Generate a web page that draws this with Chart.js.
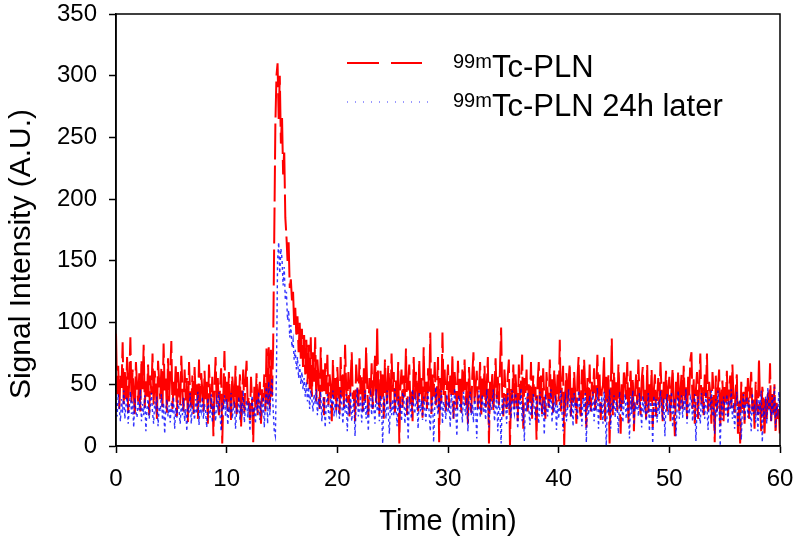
<!DOCTYPE html>
<html>
<head>
<meta charset="utf-8">
<script src="https://cdn.jsdelivr.net/npm/chart.js@4/dist/chart.umd.min.js"></script>
<style>
	body { margin: 0; background: #fff; }
	#wrap { width: 800px; height: 546px; }
</style>
</head>
<body>
<div id="wrap"><canvas id="signalChart" width="800" height="546"></canvas></div>
<script>
// sampling interval of the traces (min)
const timeStep = 0.1;

// 99mTc-PLN, red trace, one row per minute (0.1 min apart), 0 to 60 min
const plnSignal = [
	91, 42, 65, 30, 58, 47, 84, 33, 60, 38,
	72, 27, 55, 88, 35, 62, 44, 24, 68, 50,
	36, 59, 28, 70, 46, 82, 31, 54, 40, 66,
	25, 57, 42, 75, 33, 61, 48, 22, 69, 52,
	38, 64, 29, 83, 45, 56, 27, 71, 36, 58,
	85, 30, 52, 41, 67, 24, 60, 44, 33, 73,
	46, 28, 62, 37, 55, 19, 68, 42, 31, 57,
	26, 64, 40, 50, 22, 70, 35, 59, 45, 28,
	61, 38, 52, 18, 66, 43, 30, 56, 8, 48,
	72, 34, 55, 25, 47, 63, 2, 41, 77, 36,
	52, 28, 60, 39, 20, 57, 45, 31, 65, 24,
	49, 36, 58, 15, 44, 62, 27, 53, 69, 33,
	40, 21, 56, 35, 3, 48, 30, 59, 25, 43,
	52, 18, 46, 36, 58, 28, 79, 34, 80, 30,
	78, 40, 80, 170, 260, 300, 310, 265, 300, 245,
	268, 220, 240, 185, 170, 150, 165, 128, 135, 118,
	125, 98, 112, 88, 105, 76, 100, 70, 95, 64,
	90, 58, 86, 50, 82, 46, 88, 40, 76, 52,
	88, 36, 70, 55, 30, 80, 44, 62, 25, 67,
	42, 74, 33, 58, 48, 20, 70, 38, 55, 29,
	64, 45, 26, 72, 40, 58, 31, 82, 47, 35,
	60, 24, 53, 76, 38, 45, 20, 66, 50, 32,
	71, 42, 57, 28, 63, 36, 80, 48, 25, 55,
	40, 67, 30, 52, 74, 35, 97, 44, 26, 61,
	38, 58, 22, 70, 46, 33, 65, 50, 29, 75,
	44, 60, 27, 53, 36, 68, 2, 48, 62, 31,
	57, 40, 79, 25, 51, 66, 34, 45, 20, 72,
	38, 60, 47, 28, 70, 42, 55, 23, 80, 36,
	52, 30, 63, 44, 92, 26, 58, 40, 68, 33,
	47, 72, 3, 55, 35, 92, 41, 62, 28, 50,
	66, 31, 57, 40, 74, 22, 60, 46, 30, 69,
	38, 55, 27, 62, 44, 70, 33, 52, 18, 64,
	42, 27, 58, 76, 35, 49, 61, 30, 45, 68,
	24, 55, 40, 65, 31, 48, 72, 2, 52, 36,
	60, 28, 46, 71, 38, 56, 33, 64, 96, 40,
	24, 62, 45, 30, 57, 70, 0, 47, 36, 66,
	30, 58, 42, 20, 66, 37, 52, 74, 14, 55,
	43, 62, 28, 50, 35, 68, 22, 57, 40, 48,
	5, 52, 68, 34, 57, 26, 63, 40, 22, 60,
	45, 31, 70, 38, 54, 27, 62, 44, 33, 58,
	36, 86, 28, 50, 65, 0, 44, 59, 31, 53,
	67, 24, 48, 35, 60, 42, 18, 55, 72, 30,
	24, 62, 38, 70, 46, 15, 55, 33, 66, 28,
	52, 40, 63, 29, 47, 74, 36, 58, 21, 45,
	49, 73, 20, 56, 35, 58, 2, 42, 87, 25,
	60, 37, 52, 28, 66, 44, 10, 50, 34, 62,
	52, 38, 68, 18, 47, 61, 30, 55, 12, 44,
	58, 33, 70, 41, 25, 53, 64, 36, 47, 22,
	66, 27, 50, 36, 62, 15, 45, 58, 24, 40,
	55, 31, 68, 43, 20, 52, 38, 61, 28, 46,
	56, 20, 48, 63, 33, 8, 52, 38, 61, 26,
	44, 58, 30, 65, 37, 50, 22, 56, 41, 70,
	76, 30, 54, 18, 45, 60, 22, 50, 75, 34,
	48, 25, 58, 39, 75, 28, 52, 43, 18, 60,
	42, 3, 57, 28, 48, 62, 15, 40, 53, 20,
	50, 35, 61, 24, 45, 57, 30, 66, 38, 27,
	46, 58, 10, 36, 2, 52, 30, 44, 18, 48,
	33, 55, 22, 47, 60, 28, 40, 14, 52, 36,
	25, 71, 33, 12, 48, 40, 8, 38, 22, 45,
	30, 67, 18, 42, 27, 50, 10, 35, 22, 30,
	5
];

// 99mTc-PLN 24h later, blue dotted trace, same sampling
const plnLaterSignal = [
	35, 24, 42, 30, 20, 38, 27, 45, 22, 33,
	40, 18, 31, 44, 26, 36, 15, 39, 28, 23,
	37, 29, 46, 20, 34, 25, 41, 12, 30, 38,
	22, 33, 43, 27, 18, 36, 30, 40, 16, 32,
	28, 42, 21, 35, 10, 30, 38, 24, 33, 19,
	36, 26, 40, 14, 31, 23, 37, 29, 18, 34,
	25, 39, 20, 30, 12, 35, 27, 43, 18, 32,
	30, 21, 38, 26, 44, 17, 33, 28, 40, 22,
	34, 27, 15, 39, 30, 23, 42, 19, 36, 28,
	20, 37, 31, 44, 25, 12, 35, 29, 41, 24,
	38, 17, 32, 27, 43, 22, 30, 36, 14, 29,
	26, 40, 21, 33, 28, 45, 19, 31, 37, 23,
	35, 12, 29, 41, 24, 32, 18, 38, 27, 44,
	21, 34, 28, 40, 15, 37, 48, 18, 52, 25,
	45, 55, 30, 12, 8, 60, 150, 165, 140, 160,
	152, 130, 145, 118, 125, 102, 110, 88, 98, 80,
	86, 70, 78, 62, 72, 55, 66, 50, 60, 46,
	55, 40, 52, 36, 48, 30, 45, 38, 28, 42,
	34, 46, 25, 38, 30, 44, 20, 36, 40, 15,
	33, 42, 27, 18, 39, 31, 45, 24, 35, 28,
	40, 30, 22, 45, 34, 18, 38, 27, 42, 12,
	35, 26, 44, 20, 31, 38, 8, 34, 47, 24,
	30, 41, 19, 36, 27, 45, 22, 33, 12, 39,
	43, 25, 37, 30, 18, 46, 28, 35, 20, 41,
	30, 2, 41, 33, 22, 45, 28, 10, 36, 25,
	38, 24, 46, 31, 16, 40, 27, 35, 20, 43,
	43, 18, 32, 38, 5, 40, 29, 22, 46, 31,
	26, 39, 33, 14, 44, 28, 37, 21, 40, 30,
	20, 37, 44, 26, 12, 35, 41, 3, 30, 48,
	34, 25, 40, 29, 45, 18, 36, 31, 22, 42,
	27, 36, 15, 42, 33, 22, 47, 30, 8, 38,
	41, 28, 35, 19, 44, 32, 25, 39, 12, 36,
	44, 25, 34, 19, 40, 31, 6, 37, 45, 23,
	30, 42, 27, 36, 21, 46, 33, 15, 38, 29,
	33, 46, 20, 30, 41, 12, 36, 28, 2, 39,
	25, 40, 34, 18, 43, 30, 37, 22, 45, 31,
	26, 43, 35, 14, 38, 30, 47, 20, 33, 4,
	39, 28, 44, 31, 17, 36, 25, 42, 30, 21,
	40, 29, 18, 44, 32, 24, 37, 9, 42, 31,
	24, 38, 30, 46, 19, 35, 27, 41, 13, 33,
	22, 38, 45, 27, 12, 35, 40, 20, 30, 46,
	31, 24, 39, 16, 43, 29, 36, 21, 45, 33,
	34, 16, 39, 28, 43, 3, 36, 25, 41, 30,
	27, 44, 20, 35, 31, 47, 14, 38, 26, 40,
	18, 44, 33, 0, 38, 27, 46, 14, 35, 29,
	41, 23, 36, 30, 10, 44, 28, 37, 19, 33,
	42, 22, 37, 31, 6, 40, 26, 45, 17, 33,
	29, 38, 24, 43, 32, 15, 41, 27, 36, 20,
	28, 43, 12, 36, 30, 2, 41, 24, 38, 19,
	37, 26, 45, 31, 21, 39, 8, 34, 42, 25,
	35, 27, 44, 15, 32, 39, 8, 30, 45, 22,
	30, 41, 23, 37, 28, 46, 18, 35, 26, 40,
	37, 20, 33, 42, 4, 29, 40, 26, 18, 43,
	27, 36, 22, 44, 31, 13, 38, 29, 45, 24,
	31, 10, 38, 24, 45, 28, 0, 36, 21, 40,
	33, 25, 42, 18, 37, 30, 46, 22, 35, 14,
	27, 44, 16, 33, 38, 5, 30, 42, 20, 35,
	40, 23, 37, 29, 12, 43, 26, 34, 19, 38,
	12, 38, 26, 45, 3, 31, 22, 40, 18, 47,
	29, 36, 20, 41, 25, 48, 15, 33, 27, 44,
	25
];

const seriesNames = ["Tc-PLN", "Tc-PLN 24h later"];
const isotopeLabel = "99m";
const xTickValues = [0, 10, 20, 30, 40, 50, 60];
const yTickValues = [0, 50, 100, 150, 200, 250, 300, 350];

const FONT = "Arial, 'Liberation Sans', sans-serif";
const RED = "#ff0000";
const BLUE = "rgba(0,0,255,0.8)";

function toPoints(values) {
	return values.map((v, i) => ({ x: Math.round(i * timeStep * 10) / 10, y: v }));
}

// frame round the plot area + y axis title (sits a bit below centre in the original)
const boxPlugin = {
	id: "box",
	afterDraw(chart) {
		const { ctx, chartArea: a } = chart;
		ctx.save();
		ctx.strokeStyle = "#000";
		ctx.lineWidth = 1.5;
		ctx.strokeRect(a.left, a.top, a.right - a.left, a.bottom - a.top);

		ctx.translate(22, (a.top + a.bottom) / 2 + 24);
		ctx.rotate(-Math.PI / 2);
		ctx.fillStyle = "#000";
		ctx.font = "30px " + FONT;
		ctx.textAlign = "center";
		ctx.textBaseline = "middle";
		ctx.fillText("Signal Intensity (A.U.)", 0, 0);
		ctx.restore();
	},
};

// legend with superscript isotope label
const legendPlugin = {
	id: "supLegend",
	afterDraw(chart) {
		const { ctx, chartArea: a } = chart;
		const entries = [
			{ color: RED, width: 2, dash: [32, 12], len: 75, y: 49 },
			{ color: BLUE, width: 1.2, dash: [1, 7], len: 83, y: 88 },
		];
		ctx.save();
		entries.forEach((e, i) => {
			const x0 = a.left + 231;
			const y = a.top + e.y;
			ctx.beginPath();
			ctx.setLineDash(e.dash);
			ctx.strokeStyle = e.color;
			ctx.lineWidth = e.width;
			ctx.moveTo(x0, y);
			ctx.lineTo(x0 + e.len, y);
			ctx.stroke();
			ctx.setLineDash([]);

			const tx = a.left + 337;
			ctx.fillStyle = "#000";
			ctx.textBaseline = "alphabetic";
			ctx.textAlign = "left";
			ctx.font = "20px " + FONT;
			ctx.fillText(isotopeLabel, tx, y + 5);
			const supW = ctx.measureText(isotopeLabel).width;
			ctx.font = "31px " + FONT;
			ctx.fillText(seriesNames[i], tx + supW, y + 14);
		});
		ctx.restore();
	},
};

// tick labels may overhang the plot edges, as in the original
function noOverhang(scale) {
	scale.paddingTop = 0;
	scale.paddingBottom = 0;
	scale.paddingLeft = 0;
	scale.paddingRight = 0;
}

new Chart("signalChart", {
	type: "line",
	data: {
		datasets: [
			{
				label: isotopeLabel + seriesNames[0],
				data: toPoints(plnSignal),
				borderColor: RED,
				borderWidth: 2,
				borderDash: [36, 6],
				pointRadius: 0,
				tension: 0,
				order: 1,
			},
			{
				label: isotopeLabel + seriesNames[1],
				data: toPoints(plnLaterSignal),
				borderColor: BLUE,
				borderWidth: 1.4,
				borderDash: [3, 3],
				pointRadius: 0,
				tension: 0,
				order: 0,
			},
		],
	},
	options: {
		responsive: false,
		animation: false,
		layout: {
			autoPadding: false,
			padding: { top: 14, right: 20, left: 0, bottom: 0 },
		},
		plugins: {
			legend: { display: false },
			tooltip: { enabled: false },
		},
		scales: {
			x: {
				type: "linear",
				min: 0,
				max: 60,
				afterFit: (scale) => { scale.height = 100; noOverhang(scale); },
				afterBuildTicks: (scale) => { scale.ticks = xTickValues.map((v) => ({ value: v })); },
				ticks: {
					color: "#000",
					padding: 12,
					maxRotation: 0,
					font: { family: FONT, size: 24 },
				},
				grid: {
					drawOnChartArea: false,
					drawTicks: true,
					tickLength: 7,
					tickColor: "#000",
					tickWidth: 1.5,
				},
				border: { display: true, color: "#000", width: 1.5 },
				title: {
					display: true,
					text: "Time (min)",
					color: "#000",
					font: { family: FONT, size: 29 },
					padding: { top: 5, bottom: 7 },
				},
			},
			y: {
				min: 0,
				max: 350,
				afterFit: (scale) => { scale.width = 116; noOverhang(scale); },
				afterBuildTicks: (scale) => { scale.ticks = yTickValues.map((v) => ({ value: v })); },
				ticks: {
					color: "#000",
					padding: 12,
					font: { family: FONT, size: 24 },
				},
				grid: {
					drawOnChartArea: false,
					drawTicks: true,
					tickLength: 7,
					tickColor: "#000",
					tickWidth: 1.5,
				},
				border: { display: true, color: "#000", width: 1.5 },
			},
		},
	},
	plugins: [boxPlugin, legendPlugin],
});
</script>
</body>
</html>
